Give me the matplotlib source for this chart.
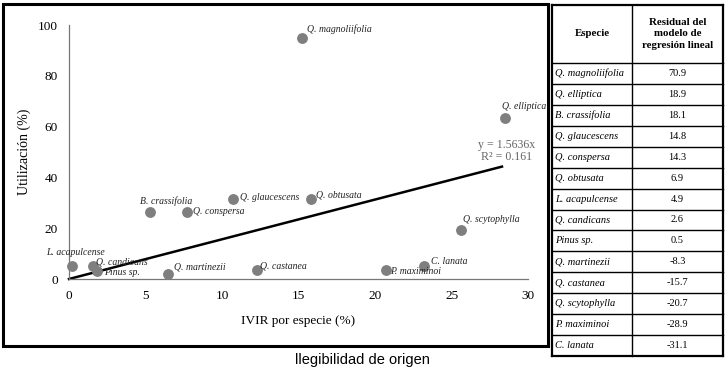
import numpy as np
import matplotlib.pyplot as plt
from matplotlib.patches import Rectangle
from matplotlib.lines import Line2D

# datos
especies = ['Q. magnoliifolia', 'Q. elliptica', 'B. crassifolia', 'Q. glaucescens',
            'Q. conspersa', 'Q. obtusata', 'L. acapulcense', 'Q. candicans',
            'Pinus sp.', 'Q. martinezii', 'Q. castanea', 'Q. scytophylla',
            'P. maximinoi', 'C. lanata']
ivir = [15.2, 28.5, 5.3, 10.7, 7.7, 15.8, 0.2, 1.6, 1.8, 6.5, 12.3, 25.6, 20.7, 23.2]
utilizacion = [95.0, 63.5, 26.3, 31.5, 26.3, 31.5, 5.2, 5.1, 3.3, 1.9, 3.5, 19.3, 3.5, 5.2]
residual = ['70.9', '18.9', '18.1', '14.8', '14.3', '6.9', '4.9', '2.6', '0.5',
            '-8.3', '-15.7', '-20.7', '-28.9', '-31.1']
pendiente = 1.5636
r2 = 0.161
x_ticks = [0, 5, 10, 15, 20, 25, 30]
y_ticks = [0, 20, 40, 60, 80, 100]

# desplazamiento de etiquetas (pixeles)
offsets = {
    'Q. magnoliifolia': (5, 9), 'Q. elliptica': (-3, 11), 'B. crassifolia': (-10, 11),
    'Q. glaucescens': (7, 1), 'Q. conspersa': (6, 1), 'Q. obtusata': (5, 4),
    'L. acapulcense': (-26, 13), 'Q. candicans': (3, 4), 'Pinus sp.': (8, -2),
    'Q. martinezii': (6, 7), 'Q. castanea': (3, 4), 'Q. scytophylla': (2, 10),
    'P. maximinoi': (4, -1), 'C. lanata': (7, 4),
}

serif = 'Liberation Serif'
W, H = 728, 372
fig = plt.figure(figsize=(W / 100, H / 100), dpi=100)

def fx(px):
    return px / W

def fy(py):
    return 1 - py / H

# marco exterior del grafico
fig.patches.append(Rectangle((fx(3), fy(346)), fx(548) - fx(3), fy(4) - fy(346),
                             transform=fig.transFigure, fill=False, lw=2.2, ec='black'))

ax = fig.add_axes([fx(69), fy(279), fx(528) - fx(69), fy(25) - fy(279)])
ax.set_xlim(0, 30)
ax.set_ylim(0, 100)
for s in ['top', 'right']:
    ax.spines[s].set_visible(False)
for s in ['left', 'bottom']:
    ax.spines[s].set_color('#777777')
    ax.spines[s].set_linewidth(0.9)
ax.set_xticks(x_ticks)
ax.set_yticks(y_ticks)
ax.tick_params(length=0, labelsize=9.5, pad=8)
for lab in ax.get_xticklabels() + ax.get_yticklabels():
    lab.set_fontfamily(serif)
ax.set_xlabel('IVIR por especie (%)', fontfamily=serif, fontsize=9.5, labelpad=9)
ax.set_ylabel('Utilización (%)', fontfamily=serif, fontsize=10)
ax.yaxis.set_label_coords(-0.082, 0.5)

# linea de regresion
xl = np.array([0, 28.3])
ax.plot(xl, pendiente * xl, color='black', lw=1.8, clip_on=False, zorder=2)

ax.scatter(ivir, utilizacion, s=46, color='#7f7f7f', zorder=3, clip_on=False)
for sp, x, y in zip(especies, ivir, utilizacion):
    dx, dy = offsets[sp]
    ax.annotate(sp, (x, y), xytext=(dx, dy), textcoords='offset pixels',
                ha='left', va='center', fontsize=7, fontstyle='italic',
                fontfamily=serif, color='#222222', zorder=4)

ax.text(26.7, 52.8, 'y = %.4fx' % pendiente, fontsize=8.6, fontfamily=serif,
        color='#666666', ha='left', va='center')
ax.text(26.9, 48.0, 'R² = %.3f' % r2, fontsize=8.6, fontfamily=serif, color='#666666',
        ha='left', va='center')

fig.text(fx(362), fy(360), 'llegibilidad de origen', fontsize=10.5,
         fontfamily='Liberation Sans', ha='center', va='center')

# tabla de residuales
tx0, tx1, tx2 = 552, 632, 723
ty0, ty_h = 5, 63
n = len(especies)
row_h = (356 - ty_h) / n
lines = []
lines.append(Line2D([fx(tx0), fx(tx2)], [fy(ty0), fy(ty0)], lw=1.6))
lines.append(Line2D([fx(tx0), fx(tx2)], [fy(356), fy(356)], lw=1.6))
lines.append(Line2D([fx(tx0), fx(tx0)], [fy(ty0), fy(356)], lw=1.6))
lines.append(Line2D([fx(tx2), fx(tx2)], [fy(ty0), fy(356)], lw=1.6))
lines.append(Line2D([fx(tx1), fx(tx1)], [fy(ty0), fy(356)], lw=1.0))
for i in range(n):
    yy = ty_h + i * row_h
    lines.append(Line2D([fx(tx0), fx(tx2)], [fy(yy), fy(yy)], lw=1.0))
for ln in lines:
    ln.set_color('black')
    ln.set_transform(fig.transFigure)
    fig.lines.append(ln)

fig.text(fx((tx0 + tx1) / 2), fy((ty0 + ty_h) / 2), 'Especie', fontsize=7.8,
         fontweight='bold', fontfamily=serif, ha='center', va='center')
fig.text(fx((tx1 + tx2) / 2), fy((ty0 + ty_h) / 2), 'Residual del\nmodelo de\nregresión lineal',
         fontsize=7.8, fontweight='bold', fontfamily=serif, ha='center', va='center',
         linespacing=1.35)
for i, (sp, r) in enumerate(zip(especies, residual)):
    yc = ty_h + (i + 0.5) * row_h
    fig.text(fx(tx0 + 3), fy(yc), sp, fontsize=7.5, fontstyle='italic',
             fontfamily=serif, ha='left', va='center')
    fig.text(fx((tx1 + tx2) / 2), fy(yc), r, fontsize=7.5,
             fontfamily=serif, ha='center', va='center')

fig.savefig('out.png', dpi=100)
